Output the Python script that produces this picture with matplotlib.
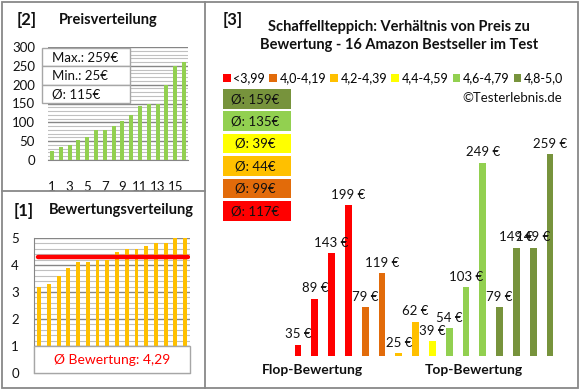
import matplotlib
matplotlib.use("Agg")
import matplotlib.pyplot as plt
from matplotlib.patches import Rectangle, Patch
import numpy as np

plt.rcParams['font.family'] = ['Lato', 'DejaVu Sans']

# data: one entry per product, grouped by rating
ratings = [3.2, 3.3, 3.6, 3.9, 4.1, 4.1, 4.2, 4.2, 4.5, 4.6, 4.6, 4.7, 4.8, 4.8, 5.0, 5.0]
prices = [35, 89, 143, 199, 79, 119, 25, 62, 39, 54, 103, 249, 79, 149, 149, 259]

bucket_labels = ['<3,99', '4,0-4,19', '4,2-4,39', '4,4-4,59', '4,6-4,79', '4,8-5,0']
bucket_bounds = [0.0, 4.0, 4.2, 4.4, 4.6, 4.8]
bucket_colors = ['#FF0000', '#E26B0A', '#FFC000', '#FFFF00', '#92D050', '#77933C']

title3 = 'Schaffellteppich: Verhältnis von Preis zu\nBewertung - 16 Amazon Bestseller im Test'

W, H = 580, 390
fig = plt.figure(figsize=(W / 100, H / 100), dpi=100)


def px_axes(x0, y0, x1, y1):
    return fig.add_axes([x0 / W, 1 - y1 / H, (x1 - x0) / W, (y1 - y0) / H])


def rnd(v):
    return int(np.floor(v + 0.5))


major_c = '#868686'
minor_c = '#C0C0C0'
txt_c = '#111111'

# ---- [2] Preisverteilung
ax2 = px_axes(47.6, 47, 188.4, 160)
ps = sorted(prices)
xs = np.arange(1, len(ps) + 1)
ax2.bar(xs, ps, width=0.45, color='#92D050', zorder=3)
ax2.set_xlim(0.5, 16.5)
ax2.set_ylim(0, 300)
ax2.set_yticks(np.arange(0, 301, 50))
ax2.set_yticks(np.arange(0, 301, 10), minor=True)
ax2.set_xticks(np.arange(1, 17, 2))
ax2.grid(axis='y', which='major', color=major_c, lw=1, zorder=0)
ax2.grid(axis='y', which='minor', color=minor_c, lw=0.8, zorder=0)
ax2.tick_params(which='both', length=0, labelsize=9.5, colors=txt_c)
ax2.tick_params(axis='y', pad=9)
ax2.tick_params(axis='x', pad=15)
for s in ['left', 'right', 'top']:
    ax2.spines[s].set_visible(False)
ax2.spines['bottom'].set_color(major_c)

# ---- [1] Bewertungsverteilung
ax1 = px_axes(34.3, 238, 190, 373)
rs = sorted(ratings)
ax1.bar(np.arange(1, 17), rs, width=0.4, color='#FFC000', zorder=3)
avg_r = np.mean(rs)
ax1.hlines(avg_r, 0.88, 16.3, color='#FF0000', lw=3.2, zorder=4, capstyle='round')
ax1.set_xlim(0.5, 16.5)
ax1.set_ylim(0, 5)
ax1.set_yticks(np.arange(0, 6, 1))
ax1.set_yticks(np.arange(0, 5.01, 0.2), minor=True)
ax1.set_xticks([])
ax1.grid(axis='y', which='major', color=major_c, lw=1, zorder=0)
ax1.grid(axis='y', which='minor', color=minor_c, lw=0.8, zorder=0)
ax1.tick_params(which='both', length=0, labelsize=9.5, colors=txt_c, pad=11)
for s in ['right', 'top']:
    ax1.spines[s].set_visible(False)
ax1.spines['left'].set_color(major_c)
ax1.spines['bottom'].set_color(major_c)
ax1.add_patch(Rectangle((0, 0), 1, 0.2, transform=ax1.transAxes, facecolor='white',
                        edgecolor='#A6A6A6', lw=1, zorder=5, clip_on=False))
ax1.text(0.5, 0.1, 'Ø Bewertung: ' + f'{avg_r:.2f}'.replace('.', ','), transform=ax1.transAxes,
         ha='center', va='center', color='#FF0000', fontsize=10, zorder=6)

# ---- [3] Preis vs Bewertung
ax3 = px_axes(289.6, 119.3, 558.4, 356)
groups = np.searchsorted(bucket_bounds, ratings, side='right') - 1
cols = [bucket_colors[g] for g in groups]
pos = np.arange(len(prices))
ax3.bar(pos, prices, width=0.4, color=cols, bottom=0, zorder=3)
ax3.set_xlim(-0.5, 15.5)
ax3.set_ylim(21.5, 300)
ax3.axis('off')
for x, p in zip(pos, prices):
    ax3.annotate(f'{p} €', (x, p), xytext=(0, 3), textcoords='offset points',
                 ha='center', va='bottom', fontsize=9.5, color=txt_c)

handles = [Patch(facecolor=c, edgecolor='none') for c in bucket_colors]
fig.legend(handles, bucket_labels, ncol=6, loc='center', bbox_to_anchor=(393 / W, 1 - 78 / H),
           frameon=False, handlelength=0.6, handleheight=0.6, handletextpad=0.2,
           columnspacing=0.35, fontsize=9, borderpad=0)

# ---- overlay: frames, titles, boxes
ov = fig.add_axes([0, 0, 1, 1], zorder=10)
ov.set_xlim(0, W)
ov.set_ylim(H, 0)
ov.axis('off')
ov.patch.set_alpha(0)
fc = '#888888'
ov.add_patch(Rectangle((1.5, 1.5), 576.5, 386.5, fill=False, edgecolor=fc, lw=1.3))
ov.plot([205, 205], [1.5, 388], color=fc, lw=1.3)
ov.plot([1.5, 205], [191, 191], color=fc, lw=1.3)

ov.text(27, 20, '[2]', ha='center', va='center', fontsize=12, fontweight='bold', color=txt_c)
ov.text(108, 20, 'Preisverteilung', ha='center', va='center', fontsize=10.5, fontweight='bold', color=txt_c)
ov.text(24, 211, '[1]', ha='center', va='center', fontsize=12, fontweight='bold', color=txt_c)
ov.text(121, 210, 'Bewertungsverteilung', ha='center', va='center', fontsize=10.5, fontweight='bold', color=txt_c)
ov.text(233, 20, '[3]', ha='center', va='center', fontsize=12, fontweight='bold', color=txt_c)
ov.text(399, 36, title3, ha='center', va='center', fontsize=10.5, fontweight='bold',
        color=txt_c, linespacing=1.35)
ov.text(562, 98, '©Testerlebnis.de', ha='right', va='center', fontsize=9.5, color=txt_c)
ov.text(312, 370, 'Flop-Bewertung', ha='center', va='center', fontsize=10, fontweight='bold', color=txt_c)
ov.text(474, 370, 'Top-Bewertung', ha='center', va='center', fontsize=10, fontweight='bold', color=txt_c)

# price stats box in [2]
stats = [f'Max.: {max(prices)}€', f'Min.: {min(prices)}€', f'Ø: {rnd(np.mean(prices))}€']
for i, s in enumerate(stats):
    y0 = 48 + i * 18.3
    ov.add_patch(Rectangle((42, y0), 88, 18.3, facecolor='white', edgecolor='#A6A6A6', lw=1))
    ov.text(52, y0 + 9.5, s, ha='left', va='center', fontsize=9.5, color=txt_c)

# group average boxes in [3]
prices_arr = np.array(prices)
for k, gi in enumerate(range(len(bucket_colors) - 1, -1, -1)):
    avg = rnd(prices_arr[groups == gi].mean())
    y0 = 89 + k * 22.4
    ov.add_patch(Rectangle((223, y0), 68, 19.5, facecolor=bucket_colors[gi], edgecolor='none'))
    ov.text(255, y0 + 10, f'Ø: {avg}€', ha='center', va='center', fontsize=9.5, color=txt_c)

fig.savefig('out.png', dpi=100)
